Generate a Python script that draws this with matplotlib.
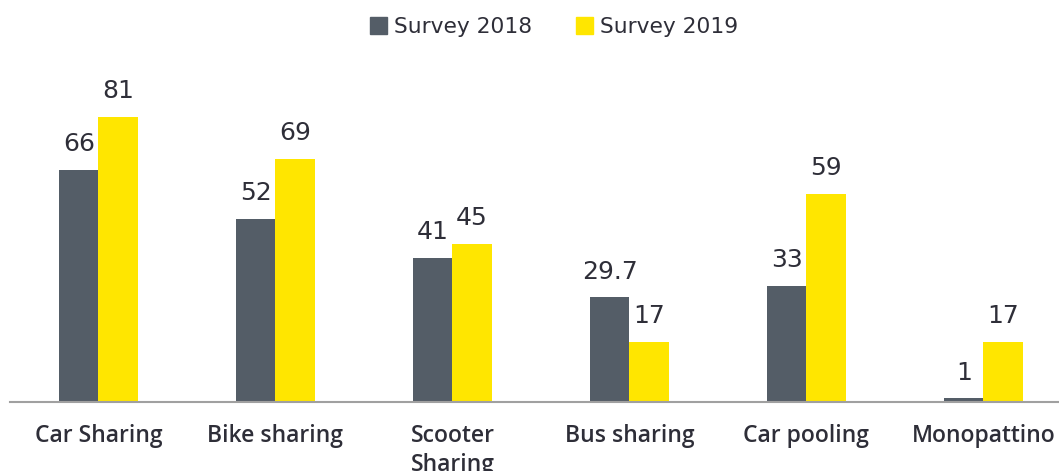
import matplotlib
matplotlib.use("Agg")
import matplotlib.pyplot as plt
import numpy as np
from matplotlib.patches import Patch

categories = ["Car Sharing", "Bike sharing", "Scooter\nSharing", "Bus sharing", "Car pooling", "Monopattino"]
survey_2018 = [66, 52, 41, 29.7, 33, 1]
survey_2019 = [81, 69, 45, 17, 59, 17]
series_names = ["Survey 2018", "Survey 2019"]

plt.rcParams["font.family"] = ["DejaVu Sans"]

c18 = "#545D67"
c19 = "#FFE600"
txt = "#2E2E38"

fig = plt.figure(figsize=(10.59, 4.71), dpi=100)
ax = fig.add_axes([10/1059, 69/471, 1049/1059, 352/471])

x = np.arange(len(categories))
w = 0.222
b1 = ax.bar(x - w/2, survey_2018, w, color=c18, zorder=2)
b2 = ax.bar(x + w/2, survey_2019, w, color=c19, zorder=2)

for bars, vals in ((b1, survey_2018), (b2, survey_2019)):
    for r, v in zip(bars, vals):
        lab = f"{v:g}"
        ax.annotate(lab, (r.get_x() + r.get_width()/2, r.get_height()),
                    xytext=(0, 10), textcoords="offset points",
                    ha="center", va="bottom", fontsize=18, color=txt,
                    family="DejaVu Sans")

ax.set_xlim(-0.5, 5.427)
ax.set_ylim(0, 100)
ax.set_yticks([])
ax.set_xticks(x)
ax.set_xticklabels(categories, fontsize=16.5, color=txt, family="Open Sans",
                   fontweight="semibold", linespacing=1.32)
ax.tick_params(axis="x", length=0, pad=15.5)
for s in ["top", "right", "left"]:
    ax.spines[s].set_visible(False)
ax.spines["bottom"].set_color("#A0A0A0")
ax.spines["bottom"].set_linewidth(1.5)
ax.spines["bottom"].set_zorder(3)

handles = [Patch(color=c18), Patch(color=c19)]
leg = fig.legend(handles, series_names, loc="center", bbox_to_anchor=(0.523, 0.943),
                 ncol=2, frameon=False, handlelength=0.8, handleheight=0.8,
                 handletextpad=0.32, columnspacing=2.0,
                 prop={"family": "DejaVu Sans", "size": 15.7})
for t in leg.get_texts():
    t.set_color(txt)

fig.savefig("out.png", dpi=100)
